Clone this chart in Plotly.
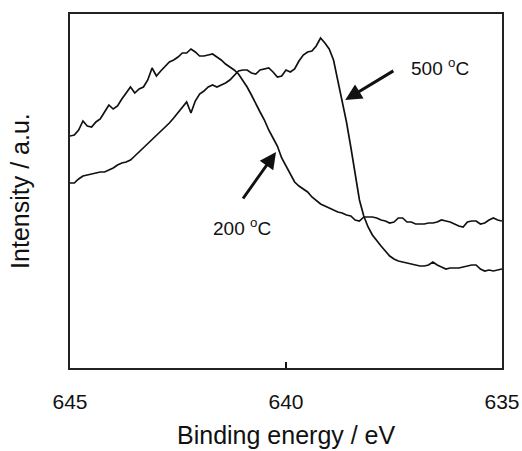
import plotly.graph_objects as go

# Binding energy grid (eV), 645 -> 635
energy_ev = [645.0, 644.9, 644.8, 644.7, 644.6, 644.5, 644.4, 644.3, 644.2, 644.1,
             644.0, 643.9, 643.8, 643.7, 643.6, 643.5, 643.4, 643.3, 643.2, 643.1,
             643.0, 642.9, 642.8, 642.7, 642.6, 642.5, 642.4, 642.3, 642.2, 642.1,
             642.0, 641.9, 641.8, 641.7, 641.6, 641.5, 641.4, 641.3, 641.2, 641.1,
             641.0, 640.9, 640.8, 640.7, 640.6, 640.5, 640.4, 640.3, 640.2, 640.1,
             640.0, 639.9, 639.8, 639.7, 639.6, 639.5, 639.4, 639.3, 639.2, 639.1,
             639.0, 638.9, 638.8, 638.7, 638.6, 638.5, 638.4, 638.3, 638.2, 638.1,
             638.0, 637.9, 637.8, 637.7, 637.6, 637.5, 637.4, 637.3, 637.2, 637.1,
             637.0, 636.9, 636.8, 636.7, 636.6, 636.5, 636.4, 636.3, 636.2, 636.1,
             636.0, 635.9, 635.8, 635.7, 635.6, 635.5, 635.4, 635.3, 635.2, 635.1,
             635.0]

# Intensity (a.u.), spectrum after 200 °C
intensity_200 = [232, 233, 238, 247, 242, 241, 246, 249, 256, 263,
                 259, 262, 269, 275, 281, 275, 279, 281, 288, 300,
                 292, 297, 302, 306, 308, 311, 315, 315, 319, 316,
                 312, 312, 313, 314, 311, 308, 304, 301, 298, 294,
                 288, 281, 273, 264, 256, 248, 238, 230, 222, 210,
                 202, 193, 186, 182, 179, 176, 171, 167, 164, 162,
                 160, 158, 156, 155, 153, 152, 148, 147, 151, 151,
                 151, 150, 148, 147, 145, 146, 150, 150, 146, 146,
                 144, 144, 144, 145, 145, 146, 148, 147, 146, 144,
                 142, 141, 146, 147, 147, 144, 145, 148, 150, 148,
                 147]

# Intensity (a.u.), spectrum after 500 °C
intensity_500 = [185, 185, 189, 192, 193, 194, 195, 196, 196, 198,
                 200, 203, 205, 206, 208, 212, 216, 221, 225, 229,
                 232, 236, 240, 245, 250, 255, 261, 266, 255, 267,
                 274, 277, 281, 283, 281, 283, 285, 288, 292, 297,
                 298, 298, 295, 294, 298, 299, 300, 296, 291, 292,
                 298, 296, 299, 307, 313, 316, 317, 322, 330, 325,
                 319, 308, 288, 267, 246, 221, 196, 168, 152, 141,
                 133, 127, 122, 117, 112, 109, 107, 106, 105, 104,
                 103, 102, 102, 103, 106, 103, 101, 99, 100, 100,
                 100, 101, 102, 103, 103, 99, 97, 98, 97, 98,
                 99]

x_ticks = [645, 640, 635]
x_tick_labels = ["645", "640", "635"]

FONT = "Arial, Liberation Sans, sans-serif"
INK = "#111111"

fig = go.Figure()
fig.add_trace(go.Scatter(x=energy_ev, y=intensity_200, mode="lines",
                         line=dict(color=INK, width=1.7), name="200 °C",
                         showlegend=False, hoverinfo="skip"))
fig.add_trace(go.Scatter(x=energy_ev, y=intensity_500, mode="lines",
                         line=dict(color=INK, width=1.7), name="500 °C",
                         showlegend=False, hoverinfo="skip"))

# labels with arrows
fig.add_annotation(x=640.23, y=216, ax=641.02, ay=168, axref="x", ayref="y",
                   xref="x", yref="y", text="", showarrow=True,
                   arrowhead=2, arrowsize=1.1, arrowwidth=3, arrowcolor=INK)
fig.add_annotation(x=641.02, y=141, xref="x", yref="y",
                   text="200 <sup>o</sup>C", showarrow=False,
                   font=dict(family=FONT, size=19, color=INK))
fig.add_annotation(x=638.63, y=268, ax=637.48, ay=298, axref="x", ayref="y",
                   xref="x", yref="y", text="", showarrow=True,
                   arrowhead=2, arrowsize=1.1, arrowwidth=3, arrowcolor=INK)
fig.add_annotation(x=636.44, y=301, xref="x", yref="y",
                   text="500 <sup>o</sup>C", showarrow=False,
                   font=dict(family=FONT, size=19, color=INK))

# axis titles
fig.add_annotation(x=0.5, y=-0.189, xref="paper", yref="paper",
                   text="Binding energy / eV", showarrow=False,
                   xanchor="center", yanchor="middle",
                   font=dict(family=FONT, size=25, color=INK))
fig.add_annotation(x=-0.116, y=0.5, xref="paper", yref="paper",
                   text="Intensity / a.u.", showarrow=False, textangle=-90,
                   xanchor="center", yanchor="middle",
                   font=dict(family=FONT, size=25, color=INK))

fig.update_layout(
    width=522, height=451,
    margin=dict(l=70, r=20, t=14, b=83),
    paper_bgcolor="white", plot_bgcolor="white",
    font=dict(family=FONT, color=INK),
    xaxis=dict(range=[645, 635], tickvals=x_ticks, ticktext=x_tick_labels,
               ticks="inside", ticklen=6, tickwidth=1.5, tickcolor=INK,
               showline=True, linecolor="#222222", linewidth=2, mirror=True,
               showgrid=False, zeroline=False, automargin=False,
               tickfont=dict(family=FONT, size=21, color=INK),
               ticklabelstandoff=14),
    yaxis=dict(range=[0, 354], showticklabels=False, ticks="",
               showline=True, linecolor="#222222", linewidth=2, mirror=True,
               showgrid=False, zeroline=False, automargin=False),
)

fig.write_html("out.html",
               config={"displayModeBar": False, "staticPlot": True},
               post_script="document.body.style.margin='0';"
                           "document.body.style.overflow='hidden';")
